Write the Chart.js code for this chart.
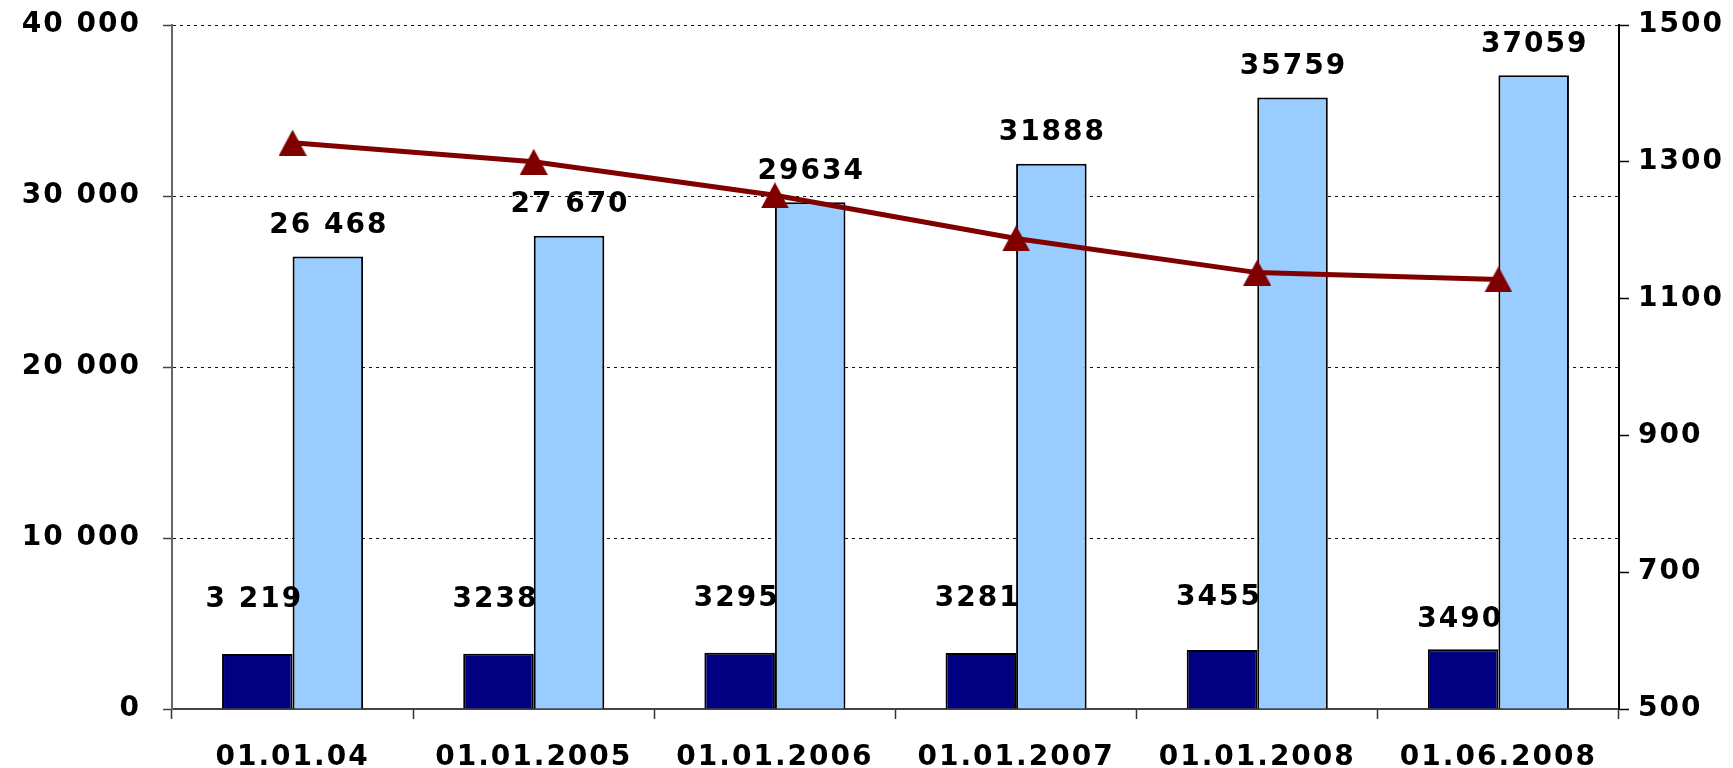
<!DOCTYPE html>
<html>
<head>
<meta charset="utf-8">
<script src="https://cdn.jsdelivr.net/npm/chart.js@4/dist/chart.umd.min.js"></script>
<style>
  html, body { margin: 0; padding: 0; background: #ffffff; }
  #wrap { width: 1733px; height: 768px; position: relative; }
</style>
</head>
<body>
<div id="wrap"><canvas id="c"></canvas></div>
<script>
// ---- data ----
const categories = ['01.01.04', '01.01.2005', '01.01.2006', '01.01.2007', '01.01.2008', '01.06.2008'];
const seriesDark = [3219, 3238, 3295, 3281, 3455, 3490];
const seriesLight = [26468, 27670, 29634, 31888, 35759, 37059];
const seriesLine = [1328, 1300, 1251, 1188, 1138, 1128];
const darkLabels = ['3 219', '3238', '3295', '3281', '3455', '3490'];
const lightLabels = ['26 468', '27 670', '29634', '31888', '35759', '37059'];
const leftTickLabels = ['0', '10 000', '20 000', '30 000', '40 000'];
const rightTickLabels = ['500', '700', '900', '1100', '1300', '1500'];

// ---- styling ----
const FONT = '"DejaVu Sans", "Liberation Sans", sans-serif';
const SPACING = '2px';
const darkLabelLift = [54, 54, 54, 54, 52, 30];
const lightLabelLift = 31;

// triangle marker (centered on point like the original)
const tri = document.createElement('canvas');
tri.width = 28; tri.height = 26;
(function () {
  const t = tri.getContext('2d');
  t.fillStyle = '#800000';
  t.beginPath();
  t.moveTo(14, 0); t.lineTo(28, 26); t.lineTo(0, 26); t.closePath();
  t.fill();
})();

const spacingPlugin = {
  id: 'spacing',
  beforeLayout(chart) { chart.ctx.letterSpacing = SPACING; },
  beforeDraw(chart) { chart.ctx.letterSpacing = SPACING; }
};

const labelPlugin = {
  id: 'valueLabels',
  afterDatasetsDraw(chart) {
    const ctx = chart.ctx;
    ctx.save();
    ctx.letterSpacing = SPACING;
    ctx.font = 'bold 28px ' + FONT;
    ctx.fillStyle = '#000';
    ctx.textAlign = 'center';
    ctx.textBaseline = 'middle';
    chart.getDatasetMeta(0).data.forEach((el, i) => {
      ctx.fillText(darkLabels[i], el.x - 3, el.y - darkLabelLift[i]);
    });
    chart.getDatasetMeta(1).data.forEach((el, i) => {
      ctx.fillText(lightLabels[i], el.x + 1, el.y - lightLabelLift);
    });
    ctx.restore();
  }
};

function noPadV(s) { s.paddingTop = 0; s.paddingBottom = 0; }

new Chart(document.getElementById('c'), {
  data: {
    labels: categories,
    datasets: [
      {
        type: 'bar',
        data: seriesDark,
        backgroundColor: '#000080',
        borderColor: '#000000',
        borderWidth: 2,
        yAxisID: 'y',
        order: 2,
        categoryPercentage: 0.585,
        barPercentage: 1.0
      },
      {
        type: 'bar',
        data: seriesLight,
        backgroundColor: '#99CCFF',
        borderColor: '#000000',
        borderWidth: 2,
        yAxisID: 'y',
        order: 2,
        categoryPercentage: 0.585,
        barPercentage: 1.0
      },
      {
        type: 'line',
        data: seriesLine,
        borderColor: '#800000',
        borderWidth: 5,
        pointStyle: tri,
        pointRadius: 14,
        pointHoverRadius: 14,
        fill: false,
        tension: 0,
        yAxisID: 'y1',
        order: 0
      }
    ]
  },
  options: {
    responsive: true,
    maintainAspectRatio: false,
    animation: false,
    events: [],
    layout: { padding: { top: 25, left: 0, right: 0, bottom: 0 } },
    plugins: { legend: { display: false }, tooltip: { enabled: false }, title: { display: false } },
    scales: {
      x: {
        offset: true,
        grid: { offset: true, drawOnChartArea: false, drawTicks: true, tickLength: 10, tickColor: '#333', tickWidth: 1.5 },
        border: { color: '#444', width: 2 },
        ticks: { font: { family: FONT, weight: 'bold', size: 28 }, color: '#000', padding: 22, maxRotation: 0, minRotation: 0, autoSkip: false },
        afterFit(s) { s.height = 59; s.paddingLeft = 0; s.paddingRight = 0; }
      },
      y: {
        position: 'left',
        min: 0, max: 40000,
        ticks: {
          stepSize: 10000,
          callback: (v, i) => leftTickLabels[i],
          font: { family: FONT, weight: 'bold', size: 28 },
          color: '#000',
          padding: 22
        },
        grid: { color: '#111', lineWidth: 1, tickLength: 9, tickColor: '#444', tickWidth: 1.5, tickBorderDash: [] },
        border: { color: '#666', width: 2, dash: [3, 4] },
        afterFit(s) { s.width = 172; noPadV(s); }
      },
      y1: {
        position: 'right',
        min: 500, max: 1500,
        ticks: {
          stepSize: 200,
          callback: (v, i) => rightTickLabels[i],
          font: { family: FONT, weight: 'bold', size: 28 },
          color: '#000',
          padding: 9
        },
        grid: { drawOnChartArea: false, tickLength: 10, tickColor: '#000', tickWidth: 1.5 },
        border: { color: '#000', width: 2 },
        afterFit(s) { s.width = 114; noPadV(s); }
      }
    }
  },
  plugins: [spacingPlugin, labelPlugin]
});
</script>
</body>
</html>
